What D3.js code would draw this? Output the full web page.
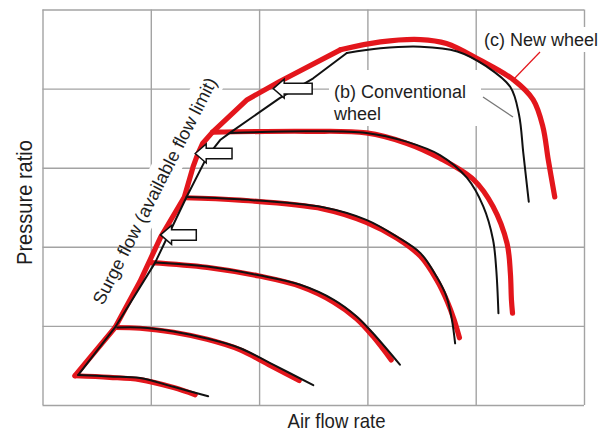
<!DOCTYPE html>
<html>
<head>
<meta charset="utf-8">
<script src="https://cdn.jsdelivr.net/npm/d3@7"></script>
<style>
  html, body { margin: 0; padding: 0; background: #fff; }
  svg { display: block; }
  text { font-family: "Liberation Sans", Arial, Helvetica, sans-serif; fill: #1e1e1e; }
</style>
</head>
<body>
<svg id="chart" width="611" height="434"></svg>
<script>
// ---------- data (grid units: air flow rate x, pressure ratio y) ----------
const X_TICKS = [0, 1, 2, 3, 4, 5];
const Y_TICKS = [0, 1, 2, 3, 4, 5];

// (b) Conventional wheel
const convSurge = [[0.33,0.38],[0.67,0.98],[1.04,1.80],[1.33,2.63],[1.52,3.14],[1.64,3.35],[1.73,3.44],[2.19,3.88],[2.50,4.13],[2.81,4.45]];
const convSpeed1 = [[0.33,0.38],[0.62,0.36],[0.90,0.34],[1.21,0.23],[1.53,0.11]];
const convSpeed2 = [[0.69,0.98],[0.90,0.98],[1.21,0.93],[1.52,0.84],[1.82,0.72],[2.13,0.51],[2.50,0.25]];
const convSpeed3 = [[1.04,1.80],[1.52,1.75],[2.00,1.64],[2.38,1.52],[2.69,1.33],[2.90,1.12],[3.05,0.91],[3.30,0.51]];
const convSpeed4 = [[1.33,2.63],[1.82,2.60],[2.59,2.50],[2.99,2.34],[3.27,2.13],[3.49,1.92],[3.64,1.62],[3.73,1.37],[3.78,1.08],[3.81,0.78]];
const convSpeed5 = [[1.73,3.44],[2.44,3.46],[2.99,3.44],[3.36,3.33],[3.67,3.16],[3.92,2.87],[4.07,2.51],[4.16,2.09],[4.19,1.71],[4.21,1.16]];
const convSpeed6 = [[2.81,4.45],[3.12,4.51],[3.49,4.53],[3.83,4.47],[4.10,4.28],[4.32,4.02],[4.40,3.67],[4.44,3.18],[4.49,2.57]];

// (c) New wheel
const newSurge = [[0.30,0.37],[0.67,0.98],[0.90,1.56],[1.09,2.12],[1.31,2.63],[1.39,3.01],[1.43,3.16],[1.48,3.31],[1.57,3.45],[1.89,3.86],[2.19,4.09],[2.75,4.49]];
const newSpeed1 = [[0.30,0.37],[0.62,0.35],[0.90,0.32],[1.21,0.22],[1.41,0.13]];
const newSpeed2 = [[0.67,0.98],[0.90,0.97],[1.21,0.92],[1.52,0.83],[1.82,0.70],[2.13,0.48],[2.37,0.31]];
const newSpeed3 = [[1.00,1.80],[1.52,1.74],[2.00,1.63],[2.38,1.50],[2.69,1.30],[2.90,1.09],[3.05,0.87],[3.22,0.57]];
const newSpeed4 = [[1.31,2.62],[1.82,2.59],[2.59,2.48],[2.99,2.31],[3.27,2.11],[3.49,1.88],[3.64,1.58],[3.74,1.30],[3.80,1.08],[3.85,0.85]];
const newSpeed5 = [[1.57,3.45],[2.44,3.46],[2.99,3.44],[3.36,3.31],[3.67,3.12],[3.98,2.85],[4.16,2.51],[4.29,2.04],[4.32,1.67],[4.33,1.33],[4.34,1.16]];
const newSpeed6 = [[2.75,4.49],[3.12,4.59],[3.49,4.62],[3.73,4.57],[4.04,4.36],[4.35,4.11],[4.53,3.86],[4.62,3.52],[4.67,3.10],[4.73,2.63]];

// surge-shift arrows: tip and tail (grid units)
const arrowTips  = [[2.13,4.00],[1.41,3.18],[1.09,2.15]];
const arrowTails = [2.49, 1.75, 1.42];

const LABEL_X = "Air flow rate";
const LABEL_Y = "Pressure ratio";
const LABEL_SURGE = "Surge flow (available flow limit)";
const LABEL_NEW = "(c) New wheel";
const LABEL_CONV = ["(b) Conventional", "wheel"];

// ---------- drawing ----------
const svg = d3.select("#chart");
const x = d3.scaleLinear().domain([0, 5]).range([42.5, 584]);
const y = d3.scaleLinear().domain([0, 5]).range([405, 9.5]);
const RED = "#e3161c", BLACK = "#111", GRID = "#a3a3a3";

svg.append("rect").attr("width", 611).attr("height", 434).attr("fill", "#fff");

// grid via axes
const gx = svg.append("g").attr("transform", `translate(0,${y(0)})`)
  .call(d3.axisBottom(x).tickValues(X_TICKS).tickSize(-(y(0) - y(5))).tickFormat(""));
const gy = svg.append("g").attr("transform", `translate(${x(0)},0)`)
  .call(d3.axisLeft(y).tickValues(Y_TICKS).tickSize(-(x(5) - x(0))).tickFormat(""));
[gx, gy].forEach(g => {
  g.select(".domain").remove();
  g.selectAll(".tick line").attr("stroke", GRID).attr("stroke-width", 1.4);
});

// white backgrounds behind annotation labels
svg.append("rect").attr("x", 480).attr("y", 27).attr("width", 124).attr("height", 25).attr("fill", "#fff");
svg.append("rect").attr("x", 329).attr("y", 70).attr("width", 152).attr("height", 56).attr("fill", "#fff");

// surge label (rotated) with partial white band
const surgeAngle = -63;
const surgeG = svg.append("g").attr("transform", `translate(103,306) rotate(${surgeAngle})`);
surgeG.append("rect").attr("x", 88).attr("y", -21).attr("width", 170).attr("height", 29).attr("fill", "#fff");

const line = d3.line().x(d => x(d[0])).y(d => y(d[1]));
const curve = d3.line().x(d => x(d[0])).y(d => y(d[1])).curve(d3.curveCatmullRom.alpha(0.5));

const newSpeeds = [newSpeed1, newSpeed2, newSpeed3, newSpeed4, newSpeed5, newSpeed6];
const convSpeeds = [convSpeed1, convSpeed2, convSpeed3, convSpeed4, convSpeed5, convSpeed6];

const gRed = svg.append("g").attr("fill", "none").attr("stroke", RED).attr("stroke-width", 5.2)
  .attr("stroke-linejoin", "round").attr("stroke-linecap", "round");
gRed.selectAll("path.speed").data(newSpeeds).join("path").attr("class", "speed").attr("d", curve);
gRed.append("path").attr("d", line(newSurge));

const gBlack = svg.append("g").attr("fill", "none").attr("stroke", BLACK).attr("stroke-width", 2)
  .attr("stroke-linejoin", "round").attr("stroke-linecap", "round");
gBlack.selectAll("path.speed").data(convSpeeds).join("path").attr("class", "speed").attr("d", curve);
gBlack.append("path").attr("d", line(convSurge));

// arrows
const arrowPath = (tip, tail) => {
  const tx = x(tip[0]), ty = y(tip[1]), ex = x(tail);
  const hl = 11, hh = 9.5, bh = 5.3;
  return `M${tx},${ty} L${tx + hl},${ty - hh} L${tx + hl},${ty - bh} L${ex},${ty - bh} L${ex},${ty + bh} L${tx + hl},${ty + bh} L${tx + hl},${ty + hh} Z`;
};
svg.append("g").selectAll("path").data(arrowTips).join("path")
  .attr("d", (d, i) => arrowPath(d, arrowTails[i]))
  .attr("fill", "#fff").attr("stroke", "#111").attr("stroke-width", 1.5).attr("stroke-linejoin", "miter");

// leader lines
svg.append("line").attr("x1", 540).attr("y1", 52).attr("x2", 513).attr("y2", 80)
  .attr("stroke", RED).attr("stroke-width", 1.2);
svg.append("line").attr("x1", 483).attr("y1", 97).attr("x2", 513).attr("y2", 117)
  .attr("stroke", "#777").attr("stroke-width", 1.3);

// texts
surgeG.append("text").attr("x", 0).attr("y", 0).attr("font-size", 18)
  .attr("textLength", 252).attr("lengthAdjust", "spacingAndGlyphs").text(LABEL_SURGE);

svg.append("text").attr("x", 484).attr("y", 45.5).attr("font-size", 18).text(LABEL_NEW);
svg.append("text").attr("x", 334).attr("y", 97.5).attr("font-size", 18).text(LABEL_CONV[0]);
svg.append("text").attr("x", 334).attr("y", 119.5).attr("font-size", 18).text(LABEL_CONV[1]);

svg.append("text").attr("x", 336.5).attr("y", 428).attr("text-anchor", "middle").attr("font-size", 21)
  .attr("textLength", 98).attr("lengthAdjust", "spacingAndGlyphs").text(LABEL_X);
svg.append("text").attr("transform", "translate(31.5,202.5) rotate(-90)").attr("text-anchor", "middle")
  .attr("font-size", 22).attr("textLength", 125).attr("lengthAdjust", "spacingAndGlyphs").text(LABEL_Y);
</script>
</body>
</html>
